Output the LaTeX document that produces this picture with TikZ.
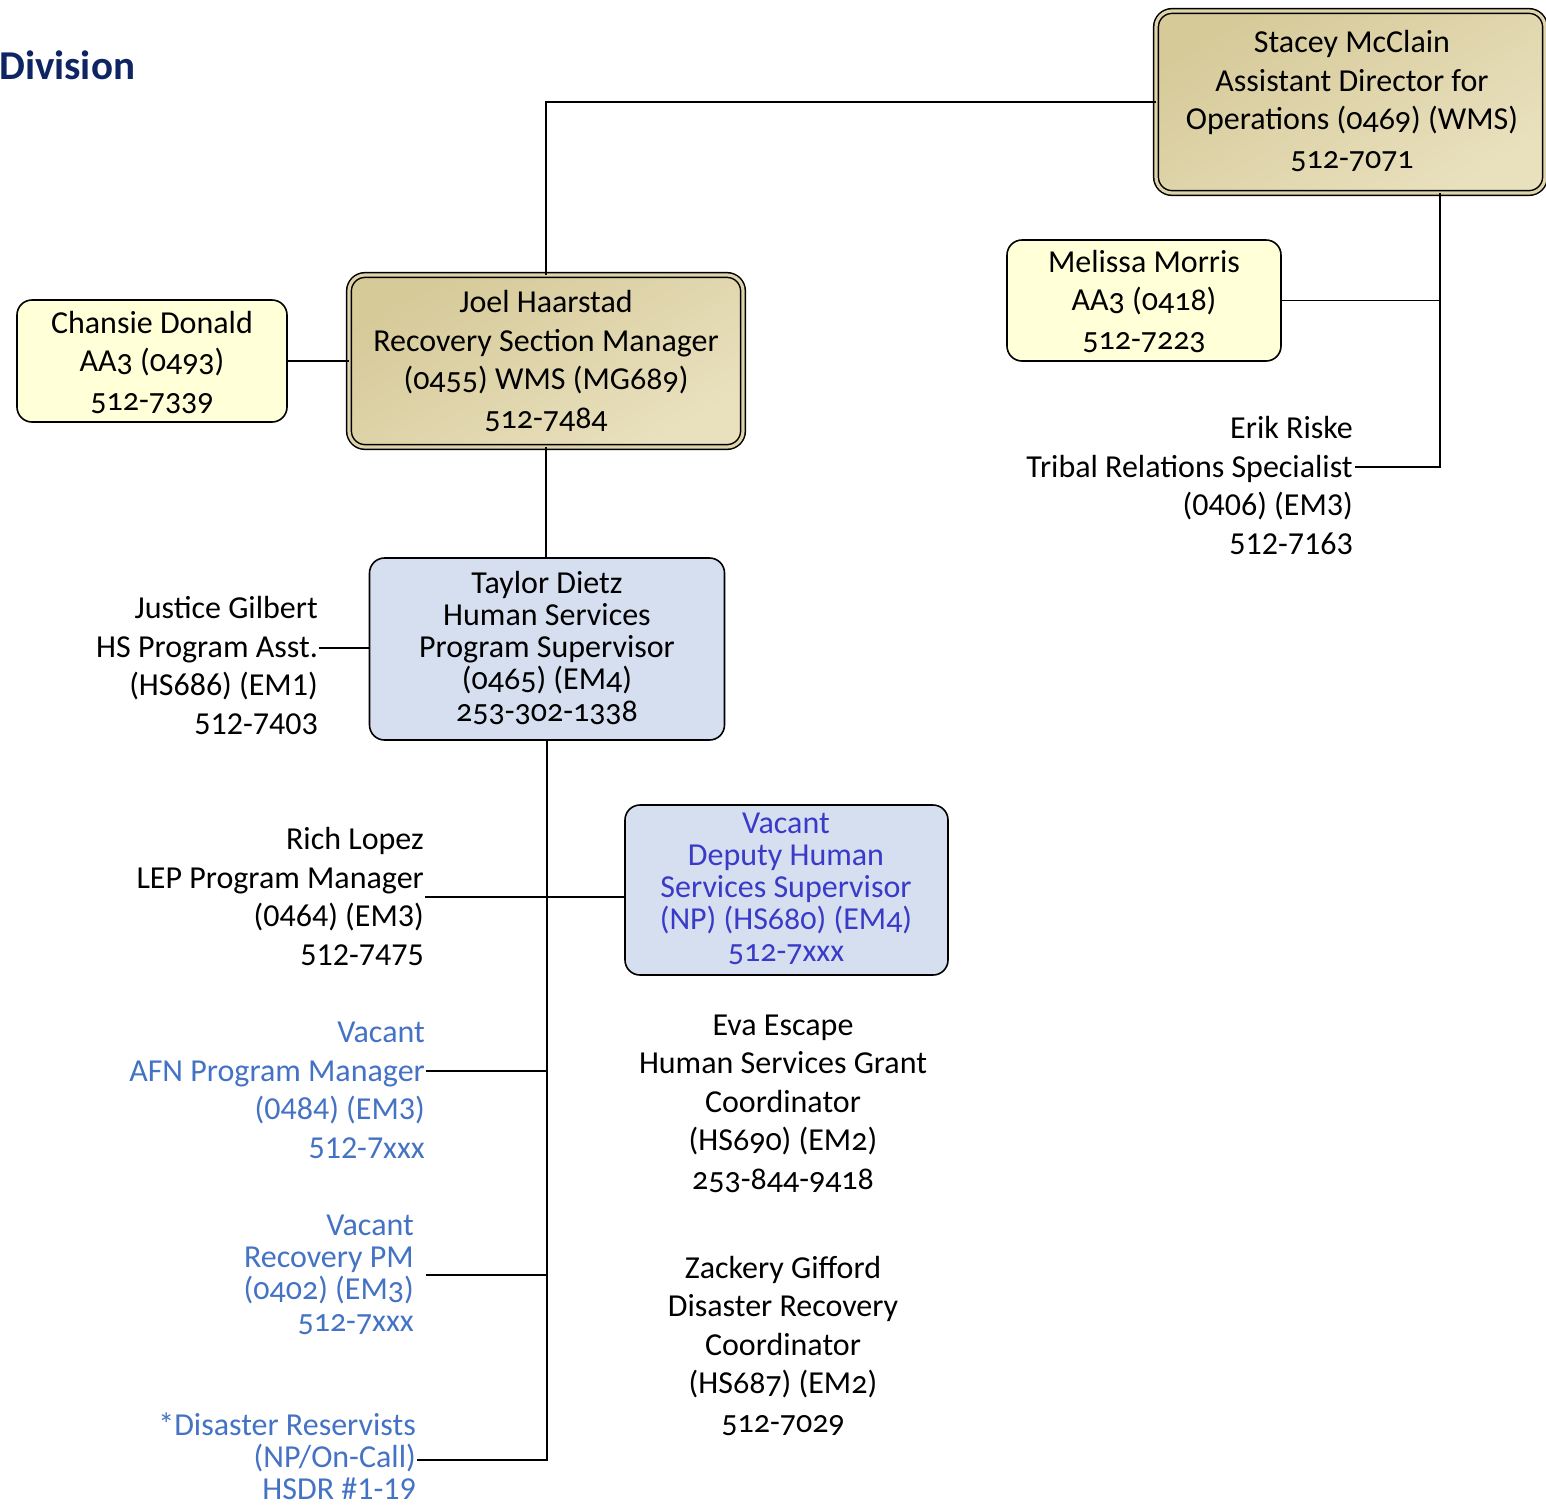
\documentclass[tikz,border=0pt]{standalone}
\usepackage{fontspec}
\setmainfont{Carlito}
\newfontfamily\candfont[Numbers=OldStyle]{Carlito}
\definecolor{goldA}{HTML}{D6CA99}
\definecolor{goldB}{HTML}{E9E0BE}
\definecolor{goldM}{HTML}{DED3A9}
\definecolor{paleY}{HTML}{FFFFD8}
\definecolor{paleB}{HTML}{D6DFF0}
\definecolor{navy}{HTML}{0F2462}
\definecolor{vacblue}{HTML}{4472C4}
\definecolor{deptblue}{HTML}{3A3AC8}
\begin{document}
\begin{tikzpicture}[x=1pt,y=-1pt,
  boxbase/.style={inner sep=0pt, outer sep=0pt},
  goldbox/.style={boxbase, draw=black, line width=1.5pt, double=goldM, double distance=3.2pt,
     rounded corners=16pt, left color=goldA, right color=goldB, shading angle=30},
  yelbox/.style={boxbase, draw=black, line width=1.6pt, fill=paleY, rounded corners=15pt},
  bluebox/.style={boxbase, draw=black, line width=1.6pt, fill=paleB, rounded corners=15pt},
  calr/.style={inner sep=0pt, align=right, font=\fontsize{32}{38.4}\selectfont},
  candw/.style={inner sep=0pt, align=center, font=\candfont\fontsize{32}{38.4}\selectfont},
  candt/.style={inner sep=0pt, align=center, font=\candfont\fontsize{32}{32}\selectfont},
  candtr/.style={inner sep=0pt, align=right, font=\candfont\fontsize{32}{32}\selectfont},
  calt/.style={inner sep=0pt, align=right, font=\fontsize{32}{32}\selectfont},
  wire/.style={draw=black, line width=1.8pt}]
\useasboundingbox (0,0) rectangle (1546,1508);

% title
\node[inner sep=0pt, anchor=base west, text=navy, font=\bfseries\fontsize{41}{48}\selectfont] (title) at (-1,79) {Division};

% boxes (text nodes anchored at the baseline of their last line)
\node[goldbox, minimum width=389pt, minimum height=182pt] (stacey) at (1350.5,102) {};
\node[candw, anchor=base] (staceyT) at (1352,168) {Stacey McClain\\Assistant Director for\\Operations (0469) (WMS)\\512-7071};

\node[goldbox, minimum width=394pt, minimum height=172pt] (joel) at (546,361) {};
\node[candw, anchor=base] (joelT) at (546,428) {Joel Haarstad\\Recovery Section Manager\\(0455) WMS (MG689)\\512-7484};

\node[yelbox, minimum width=270pt, minimum height=122pt] (chansie) at (152,361) {};
\node[candw, anchor=base] (chansieT) at (152,410) {Chansie Donald\\AA3 (0493)\\512-7339};

\node[yelbox, minimum width=274pt, minimum height=121pt] (melissa) at (1144,300.5) {};
\node[candw, anchor=base] (melissaT) at (1144,349) {Melissa Morris\\AA3 (0418)\\512-7223};

\node[bluebox, minimum width=355pt, minimum height=182pt] (taylor) at (547,649) {};
\node[candt, anchor=base] (taylorT) at (547,721) {Taylor Dietz\\Human Services\\Program Supervisor\\(0465) (EM4)\\253-302-1338};

\node[bluebox, minimum width=323pt, minimum height=170pt] (deputy) at (786.5,890) {};
\node[candt, anchor=base, text=deptblue] (deputyT) at (786,961) {Vacant\\Deputy Human\\Services Supervisor\\(NP) (HS680) (EM4)\\512-7xxx};

% free text
\node[calr, anchor=base east] (erik) at (1353,554) {Erik Riske\\Tribal Relations Specialist\\(0406) (EM3)\\512-7163};
\node[calr, anchor=base east] (justice) at (318,734) {Justice Gilbert\\HS Program Asst.\\(HS686) (EM1)\\512-7403};
\node[calr, anchor=base east] (rich) at (424,965) {Rich Lopez\\LEP Program Manager\\(0464) (EM3)\\512-7475};
\node[calr, anchor=base east, text=vacblue] (afn) at (425,1158) {Vacant\\AFN Program Manager\\(0484) (EM3)\\512-7xxx};
\node[candtr, anchor=base east, text=vacblue] (recpm) at (414,1331) {Vacant\\Recovery PM\\(0402) (EM3)\\512-7xxx};
\node[calt, anchor=base east, text=vacblue] (reserv) at (416,1499) {*Disaster Reservists\\(NP/On-Call)\\HSDR \#1-19};
\node[candw, anchor=base] (eva) at (783,1189) {Eva Escape\\Human Services Grant\\Coordinator\\(HS690) (EM2)\\253-844-9418};
\node[candw, anchor=base] (zack) at (783,1432) {Zackery Gifford\\Disaster Recovery\\Coordinator\\(HS687) (EM2)\\512-7029};

% connector end points
\coordinate (adTrunk) at (1440,467);
\coordinate (erikE) at (1355,467);
\coordinate (justiceE) at (319,648);
\coordinate (richE) at (425,897);
\coordinate (afnE) at (426,1071);
\coordinate (recpmE) at (426,1275);
\coordinate (reservE) at (417,1460);
\coordinate (spineEnd) at (547,1460);

% connectors
\draw[wire] (stacey.west) -| (joel.north);
\draw[wire] (stacey.south -| adTrunk) -- (adTrunk) -- (erikE);
\draw[wire] (melissa.east) -- (melissa.east -| adTrunk);
\draw[wire] (chansie.east) -- (joel.west);
\draw[wire] (joel.south) -- (joel.south |- taylor.north);
\draw[wire] (justiceE) -- (taylor.west |- justiceE);
\draw[wire] (taylor.south) -- (spineEnd) -- (reservE);
\draw[wire] (richE) -- (deputy.west |- richE);
\draw[wire] (afnE) -- (afnE -| spineEnd);
\draw[wire] (recpmE) -- (recpmE -| spineEnd);
\end{tikzpicture}
\end{document}
